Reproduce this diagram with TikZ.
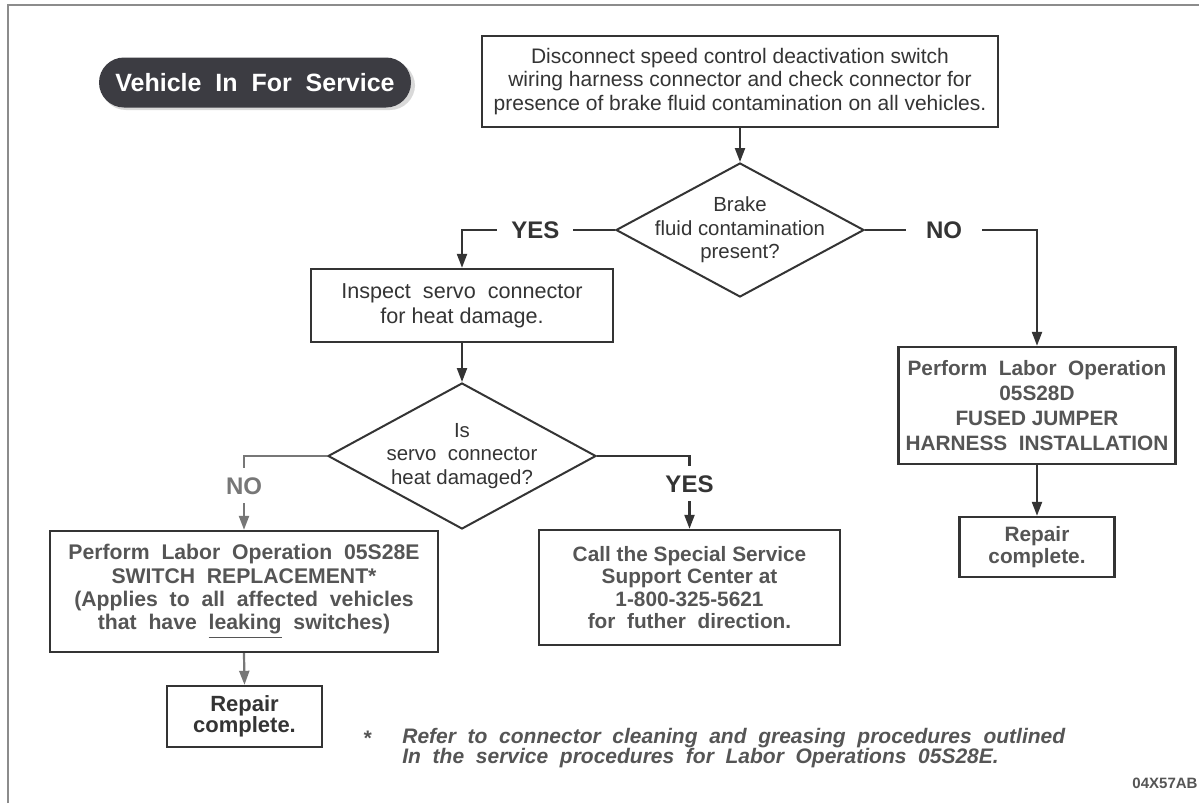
\documentclass[tikz,border=0pt]{standalone}
\usepackage{fontspec}
\setmainfont{Liberation Sans}
\usetikzlibrary{shapes.geometric,arrows.meta}
\definecolor{ink}{HTML}{343434}
\definecolor{boldink}{HTML}{555555}
\definecolor{lite}{HTML}{777777}
\definecolor{pillfill}{HTML}{3C3C42}
\definecolor{framec}{HTML}{8C8C8C}
\begin{document}
\begin{tikzpicture}[x=0.5pt,y=-0.5pt,
  box/.style={draw=ink, line width=1.2pt, fill=white, inner sep=0pt, align=center},
  txt/.style={font=\fontsize{10.5}{11.75}\selectfont, text=ink},
  btxt/.style={font=\fontsize{10.4}{11.6}\selectfont\bfseries, text=boldink},
  dia/.style={diamond, draw=ink, line width=1pt, fill=white, inner sep=0pt},
  dtext/.style={align=center, inner sep=0pt, font=\fontsize{10.2}{11.75}\selectfont, text=ink},
  conn/.style={draw=ink, line width=1.1pt, -{Triangle[length=7pt,width=5pt]}},
  liteconn/.style={draw=lite, line width=1.1pt, -{Triangle[length=7pt,width=5pt]}},
  lbl/.style={fill=white, font=\fontsize{12}{14}\selectfont\bfseries, text=ink, inner xsep=7pt, inner ysep=4.5pt,
              text height=8.6pt, text depth=0pt},
  foot/.style={font=\fontsize{10.5}{10}\selectfont\bfseries\itshape, text=boldink, inner sep=0pt},
  pillstyle/.style={fill=pillfill, rounded corners=12.5pt, minimum width=156pt, minimum height=25pt,
              inner sep=0pt, text=white, font=\fontsize{12.5}{14}\selectfont\bfseries}
]
\useasboundingbox (0,0) rectangle (1199,803);
\fill[white] (0,0) rectangle (1199,803);
\draw[framec, line width=1pt] (8,803) -- (8,5) -- (1199,5);

% title pill
\fill[gray!30, rounded corners=12.5pt] (101,61) rectangle (415,110);
\node[pillstyle] (title) at (255,82.5) {Vehicle\ \ In\ \ For\ \ Service};

% boxes
\node[box, txt, minimum width=258pt, minimum height=45.5pt] (start) at (740,81.5)
  {Disconnect speed control deactivation switch\\wiring harness connector and check connector for\\presence of brake fluid contamination on all vehicles.};
\node[dia, minimum width=124pt, minimum height=67pt] (d1) at (740,230) {};
\node[dtext] (d1text) at (d1.center) {Brake\\fluid contamination\\present?};
\node[box, txt, font=\fontsize{10.8}{12.5}\selectfont, minimum width=151pt, minimum height=36.5pt] (inspect) at (462,305.5)
  {Inspect\ \ servo\ \ connector\\for heat damage.};
\node[dia, minimum width=134pt, minimum height=73pt] (d2) at (462,456) {};
\node[dtext] (d2text) at (d2.center) {Is\\servo\ \ connector\\heat damaged?};
\node[box, btxt, font=\fontsize{10.4}{12.5}\selectfont\bfseries, minimum width=138.5pt, minimum height=58.5pt] (fused) at (1037,405.5)
  {Perform\ \ Labor\ \ Operation\\05S28D\\FUSED JUMPER\\HARNESS\ \ INSTALLATION};
\node[box, btxt, font=\fontsize{10.4}{11}\selectfont\bfseries, minimum width=77.5pt, minimum height=30pt] (repairR) at (1037,547)
  {Repair\\complete.};
\node[box, btxt, font=\fontsize{10.6}{11.67}\selectfont\bfseries, minimum width=194pt, minimum height=60.5pt] (replace) at (244,591.5)
  {Perform\ \ Labor\ \ Operation\ \ 05S28E\\SWITCH\ \ REPLACEMENT*\\(Applies\ \ to\ \ all\ \ affected\ \ vehicles\\that\ \ have\ \ \underline{leaking}\ \ switches)};
\node[box, btxt, font=\fontsize{10.4}{11.2}\selectfont\bfseries, minimum width=150.5pt, minimum height=57.5pt] (call) at (689.5,587.5)
  {Call the Special Service\\Support Center at\\1-800-325-5621\\for\ \ futher\ \ direction.};
\node[box, btxt, text=ink, font=\fontsize{11}{10.6}\selectfont\bfseries, minimum width=77.5pt, minimum height=30.5pt] (repairL) at (244.5,716.5)
  {Repair\\complete.};

% bend points
\coordinate (c1) at (462,230);
\coordinate (c2) at (1037,230);
\coordinate (c3) at (244,456);
\coordinate (c4) at (689.5,456);

% connectors
\draw[conn] (start.south -| d1.north) -- (d1.north);
\draw[conn] (d1.west) -- node[lbl, pos=0.52] (yes1) {YES} (c1) -- (inspect.north);
\draw[conn] (d1.east) -- node[lbl, pos=0.46, inner xsep=10pt] (no1) {NO} (c2) -- (fused.north);
\draw[conn] (inspect.south) -- (d2.north);
\draw[liteconn] (d2.west) -- (c3) -- node[lbl, text=lite, pos=0.4, inner xsep=2pt] (no2) {NO} (replace.north);
\draw[conn] (d2.east) -- (c4) -- node[lbl, pos=0.38, inner xsep=2pt] (yes2) {YES} (call.north);
\draw[conn] (fused.south) -- (repairR.north);
\draw[liteconn] (replace.south) -- (repairL.north);

% footnote
\node[foot, anchor=base] (star) at (367,745) {*};
\node[foot, anchor=base west] (note1) at (402,743) {Refer\ \ to\ \ connector\ \ cleaning\ \ and\ \ greasing\ \ procedures\ \ outlined};
\node[foot, anchor=base west] (note2) at (402,763) {In\ \ the\ \ service\ \ procedures\ \ for\ \ Labor\ \ Operations\ \ 05S28E.};

\node[font=\fontsize{7.5}{9}\selectfont\bfseries, text=boldink, inner sep=0pt] (code) at (1165,783) {04X57AB};
\end{tikzpicture}
\end{document}
